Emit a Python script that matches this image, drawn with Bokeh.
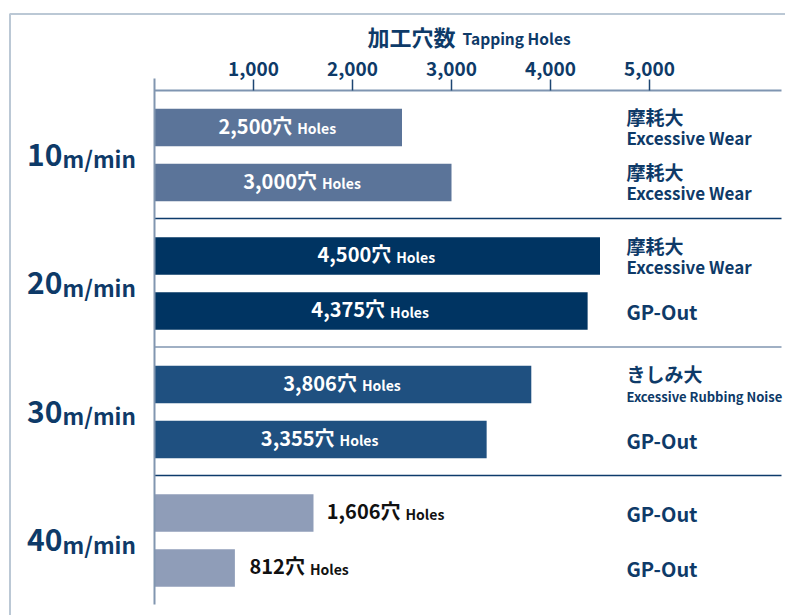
from bokeh.plotting import figure
from bokeh.models import Range1d, FixedTicker, BoxAnnotation, ColumnDataSource
from bokeh.core.properties import value
from bokeh.embed import file_html
from bokeh.resources import INLINE

# ---------------- data ----------------
speeds = ["10", "20", "30", "40"]
speed_unit = "m/min"
holes = [2500, 3000, 4500, 4375, 3806, 3355, 1606, 812]
bar_speed = [0, 0, 1, 1, 2, 2, 3, 3]
result_jp = ["摩耗大", "摩耗大", "摩耗大", "", "きしみ大", "", "", ""]
result_en = ["Excessive Wear", "Excessive Wear", "Excessive Wear", "GP-Out",
             "Excessive Rubbing Noise", "GP-Out", "GP-Out", "GP-Out"]
tick_values = [1000, 2000, 3000, 4000, 5000]
tick_labels = ["1,000", "2,000", "3,000", "4,000", "5,000"]
title_jp = "加工穴数"
title_en = "Tapping Holes"
unit_jp = "穴"
unit_en = "Holes"

# ---------------- style / layout ----------------
FONT = "Noto Sans CJK JP"
NAVY = "#0e3a68"
speed_colors = ["#5b7499", "#003462", "#1f5080", "#8f9db8"]
sep_colors = ["#0d3b6b", "#8196b0", "#0d3b6b"]
W, H = 785, 615
PX = 1000 / 99.0              # data units per pixel along x
ORG_X, ORG_Y = 154, 89.5      # pixel position of value 0 / top of bar area
PLOT_H = 514                  # height of bar area in pixels
GROUP_H = PLOT_H / 4.0
FIRST_OFF, SUB_GAP, BAR_H = 37.4, 55.0, 37.5

def dy(size):
    # baseline correction for text glyphs (fraction of font size)
    return -0.45 * size

def px_x(ix):
    return (ix - ORG_X) * PX

def px_y(iy):
    return iy - ORG_Y

AX_END = px_x(781)

p = figure(width=W, height=H,
           x_range=Range1d(px_x(0), px_x(W)), y_range=Range1d(px_y(H), px_y(0)),
           x_axis_location="above", output_backend="svg", toolbar_location=None,
           min_border_left=0, min_border_right=0, min_border_top=0,
           min_border_bottom=0)
p.grid.visible = False
p.outline_line_color = None
p.background_fill_color = "white"
p.border_fill_color = "white"

# top value axis, drawn at the top of the bar area
xa = p.xaxis[0]
xa.fixed_location = 0
xa.bounds = (0, AX_END)
xa.ticker = FixedTicker(ticks=tick_values)
xa.major_label_overrides = {v: t for v, t in zip(tick_values, tick_labels)}
xa.axis_line_color = "#7f95b1"
xa.axis_line_width = 2
xa.major_tick_line_color = "#1d4672"
xa.major_tick_line_width = 1.5
xa.major_tick_out = 11
xa.major_tick_in = 0
xa.minor_tick_line_color = None
xa.major_label_text_font = FONT
xa.major_label_text_font_style = "bold"
xa.major_label_text_font_size = "19px"
xa.major_label_text_color = NAVY
xa.major_label_standoff = 3

# vertical base line
ya = p.yaxis[0]
ya.fixed_location = 0
ya.bounds = (px_y(78), PLOT_H)
ya.ticker = FixedTicker(ticks=[])
ya.axis_line_color = "#8196b0"
ya.axis_line_width = 2
ya.major_tick_line_color = None
ya.minor_tick_line_color = None
ya.major_label_text_font_size = "0px"

# bars
centers = [bar_speed[i] * GROUP_H + FIRST_OFF + (i % 2) * SUB_GAP for i in range(len(holes))]

def num_width(s):
    d = sum(c.isdigit() for c in s)
    return d * 12 + s.count(",") * 5 + 18

NUM_FS, HOL_FS = 20, 14
HOLES_W, GAP = 38, 5
num_txt, anchor, off_num, off_hol, lab_col = [], [], [], [], []
for h in holes:
    s = f"{h:,}{unit_jp}"
    w = num_width(s)
    num_txt.append(s)
    if h > 2000:
        anchor.append(h / 2)
        total = w + GAP + HOLES_W
        off_num.append(-total / 2 + w)
        off_hol.append(-total / 2 + w + GAP)
        lab_col.append("white")
    else:
        anchor.append(h)
        off_num.append(16 + w)
        off_hol.append(16 + w + GAP)
        lab_col.append("#111111")

src = ColumnDataSource(dict(
    y=centers, holes=holes, color=[speed_colors[g] for g in bar_speed],
    num=num_txt, hol=[unit_en] * len(holes), anchor=anchor,
    off_num=off_num, off_hol=off_hol, lab_col=lab_col,
    num_y=[c + 7 + dy(NUM_FS) for c in centers],
    hol_y=[c + 7 + dy(HOL_FS) for c in centers],
))
p.hbar(y="y", left=0, right="holes", height=BAR_H, fill_color="color",
       line_color=None, source=src)
p.text(x="anchor", y="num_y", text="num", x_offset="off_num", text_align="right",
       text_baseline="alphabetic", text_color="lab_col", text_font=value(FONT),
       text_font_style="bold", text_font_size=f"{NUM_FS}px", source=src)
p.text(x="anchor", y="hol_y", text="hol", x_offset="off_hol", text_align="left",
       text_baseline="alphabetic", text_color="lab_col", text_font=value(FONT),
       text_font_style="bold", text_font_size=f"{HOL_FS}px", source=src)

# result labels on right
RX = px_x(626)
JP_FS = 19
jp_y, jp_t, en_y, en_t, en_size = [], [], [], [], []
for c, jp, en in zip(centers, result_jp, result_en):
    if jp:
        jp_y.append(c - 2 + dy(JP_FS))
        jp_t.append(jp)
        fs = 17 if len(en) < 18 else 13
        en_y.append(c + 17.8 + dy(fs))
    else:
        fs = 20
        en_y.append(c + 10 + dy(fs))
    en_size.append(f"{fs}px")
    en_t.append(en)
rjp = ColumnDataSource(dict(x=[RX] * len(jp_t), y=jp_y, t=jp_t))
ren = ColumnDataSource(dict(x=[RX] * len(en_t), y=en_y, t=en_t, s=en_size))
p.text(x="x", y="y", text="t", source=rjp, text_font=value(FONT),
       text_font_style="bold", text_font_size=f"{JP_FS}px", text_color=NAVY,
       text_baseline="alphabetic")
p.text(x="x", y="y", text="t", source=ren, text_font=value(FONT),
       text_font_style="bold", text_font_size="s", text_color=NAVY,
       text_baseline="alphabetic")

# group separators
seps = [g * GROUP_H for g in range(1, 4)]
p.segment(x0=[0] * 3, x1=[AX_END] * 3, y0=seps, y1=seps,
          line_color=sep_colors, line_width=1.6)

# group labels (left)
G_FS, U_FS = 30, 22.5
gx = px_x(62)
gbase = [g * GROUP_H + GROUP_H / 2 + 14 for g in range(len(speeds))]
gsrc = ColumnDataSource(dict(x=[gx] * len(speeds),
                             yn=[b + dy(G_FS) for b in gbase],
                             yu=[b + dy(U_FS) for b in gbase],
                             num=speeds, unit=[speed_unit] * len(speeds)))
p.text(x="x", y="yn", text="num", source=gsrc, text_align="right",
       text_baseline="alphabetic", text_font=value(FONT),
       text_font_style="bold", text_font_size=f"{G_FS}px", text_color=NAVY)
p.text(x="x", y="yu", text="unit", source=gsrc, text_align="left",
       text_baseline="alphabetic", text_font=value(FONT),
       text_font_style="bold", text_font_size=f"{U_FS}px", text_color=NAVY)

# axis title
T1_FS, T2_FS = 22, 15.5
p.text(x=[px_x(367)], y=[px_y(45.5) + dy(T1_FS)], text=[title_jp], text_align="left",
       text_baseline="alphabetic", text_font=value(FONT),
       text_font_style="bold", text_font_size=f"{T1_FS}px", text_color=NAVY)
p.text(x=[px_x(462)], y=[px_y(44.5) + dy(T2_FS)], text=[title_en], text_align="left",
       text_baseline="alphabetic", text_font=value(FONT),
       text_font_style="bold", text_font_size=f"{T2_FS}px", text_color=NAVY)

# outer frame
p.add_layout(BoxAnnotation(left=px_x(9.5), right=px_x(900), top=px_y(13.5),
                           bottom=px_y(700), fill_alpha=0, line_color="#1d4a75",
                           line_width=2, level="underlay"))

open("out.html", "w").write(file_html(p, INLINE))
